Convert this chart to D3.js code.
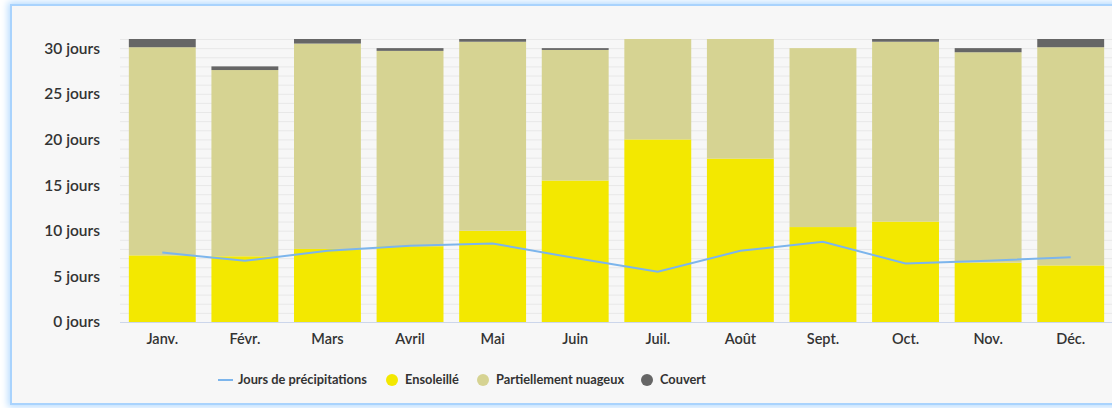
<!DOCTYPE html>
<html>
<head>
<meta charset="utf-8">
<script src="https://cdn.jsdelivr.net/npm/d3@7"></script>
<style>
  html, body { margin: 0; padding: 0; background: #ffffff; overflow: hidden; }
  #frame {
    position: absolute; left: 10px; top: 4px; width: 1130px; height: 397px;
    background: #f7f7f7; border: 2px solid #a9d3fd;
    box-shadow: 0 0 7px 2px #b7dcff;
  }
  #chart { position: absolute; left: 0; top: 0; }
  text { fill: #333333; }
</style>
</head>
<body>
<div id="frame"></div>
<div id="chart"></div>
<script>
// Données (jours par mois)
const months = ["Janv.", "Févr.", "Mars", "Avril", "Mai", "Juin", "Juil.", "Août", "Sept.", "Oct.", "Nov.", "Déc."];
const sunny = [7.3, 7.2, 8.0, 8.3, 10.0, 15.5, 20.0, 17.9, 10.4, 11.0, 6.5, 6.2];
const partlyCloudy = [22.8, 20.4, 22.5, 21.4, 20.7, 14.3, 11.0, 13.1, 19.6, 19.7, 23.05, 23.9];
const overcast = [0.9, 0.4, 0.5, 0.3, 0.3, 0.2, 0, 0, 0, 0.3, 0.45, 0.9];
const precipitation = [7.6, 6.7, 7.8, 8.35, 8.6, 7.0, 5.5, 7.8, 8.8, 6.4, 6.7, 7.1];
const yTicks = [0, 5, 10, 15, 20, 25, 30];

const width = 1112, height = 408;
const colors = { sunny: "#f3e800", partly: "#d6d392", overcast: "#666666", line: "#7cb5ec" };

const svg = d3.select("#chart").append("svg")
  .attr("width", width)
  .attr("height", height);

// Échelles
const x = d3.scaleBand()
  .domain(months)
  .range([121, 1112])
  .paddingInner(0.19)
  .paddingOuter(0.095);

const y = d3.scaleLinear()
  .domain([0, 31])
  .range([322, 39]);

// Lignes de grille (chaque jour)
svg.append("g")
  .selectAll("line")
  .data(d3.range(1, 32))
  .join("line")
  .attr("x1", 120).attr("x2", width)
  .attr("y1", d => y(d) + 0.5).attr("y2", d => y(d) + 0.5)
  .attr("stroke", "#e8e8e8")
  .attr("stroke-width", 1);

// Empilement des barres
const rows = months.map((m, i) => ({ month: m, sunny: sunny[i], partly: partlyCloudy[i], overcast: overcast[i] }));
const stack = d3.stack().keys(["sunny", "partly", "overcast"]);
const series = stack(rows);

svg.append("g")
  .selectAll("g")
  .data(series)
  .join("g")
  .attr("fill", d => colors[d.key])
  .selectAll("rect")
  .data(d => d)
  .join("rect")
  .attr("x", d => x(d.data.month))
  .attr("width", x.bandwidth())
  .attr("y", d => y(d[1]))
  .attr("height", d => Math.max(0, y(d[0]) - y(d[1])));

// Ligne d'axe X
svg.append("line")
  .attr("x1", 120).attr("x2", width)
  .attr("y1", y(0) + 0.5).attr("y2", y(0) + 0.5)
  .attr("stroke", "#ccd6eb");

// Précipitations
const line = d3.line()
  .x((d, i) => x(months[i]) + x.bandwidth() / 2)
  .y(d => y(d));

svg.append("path")
  .datum(precipitation)
  .attr("d", line)
  .attr("fill", "none")
  .attr("stroke", colors.line)
  .attr("stroke-width", 2);

// Axe Y
const yAxis = d3.axisLeft(y)
  .tickValues(yTicks)
  .tickSize(0)
  .tickPadding(0)
  .tickFormat(d => d + " jours");

svg.append("g")
  .attr("transform", "translate(100,0)")
  .call(yAxis)
  .call(g => g.select(".domain").remove())
  .selectAll("text")
  .attr("font-family", "Lato, sans-serif")
  .attr("font-size", 15.5)
  .attr("font-weight", 600)
  .attr("fill", "#333333");

// Axe X
const xAxis = d3.axisBottom(x).tickSize(0).tickPadding(12);
svg.append("g")
  .attr("transform", `translate(0,${y(0)})`)
  .call(xAxis)
  .call(g => g.select(".domain").remove())
  .selectAll("text")
  .attr("font-family", "Lato, sans-serif")
  .attr("font-size", 14.5)
  .attr("font-weight", 600)
  .attr("fill", "#333333");

// Légende
const legendItems = [
  { label: "Jours de précipitations", type: "line", color: colors.line, x: 218 },
  { label: "Ensoleillé", type: "dot", color: colors.sunny, x: 386 },
  { label: "Partiellement nuageux", type: "dot", color: colors.partly, x: 477 },
  { label: "Couvert", type: "dot", color: colors.overcast, x: 641 }
];

const legend = svg.append("g").attr("transform", "translate(0,380)");
const item = legend.selectAll("g")
  .data(legendItems)
  .join("g")
  .attr("transform", d => `translate(${d.x},0)`);

item.filter(d => d.type === "line").append("line")
  .attr("x1", 0).attr("x2", 15).attr("y1", 0).attr("y2", 0)
  .attr("stroke", d => d.color).attr("stroke-width", 2);

item.filter(d => d.type === "dot").append("circle")
  .attr("cx", 6).attr("cy", 0).attr("r", 6)
  .attr("fill", d => d.color);

item.append("text")
  .attr("x", d => d.type === "line" ? 20 : 19)
  .attr("dy", "0.35em")
  .attr("font-family", "Lato, sans-serif")
  .attr("font-size", 12.8)
  .attr("font-weight", 700)
  .text(d => d.label);
</script>
</body>
</html>
